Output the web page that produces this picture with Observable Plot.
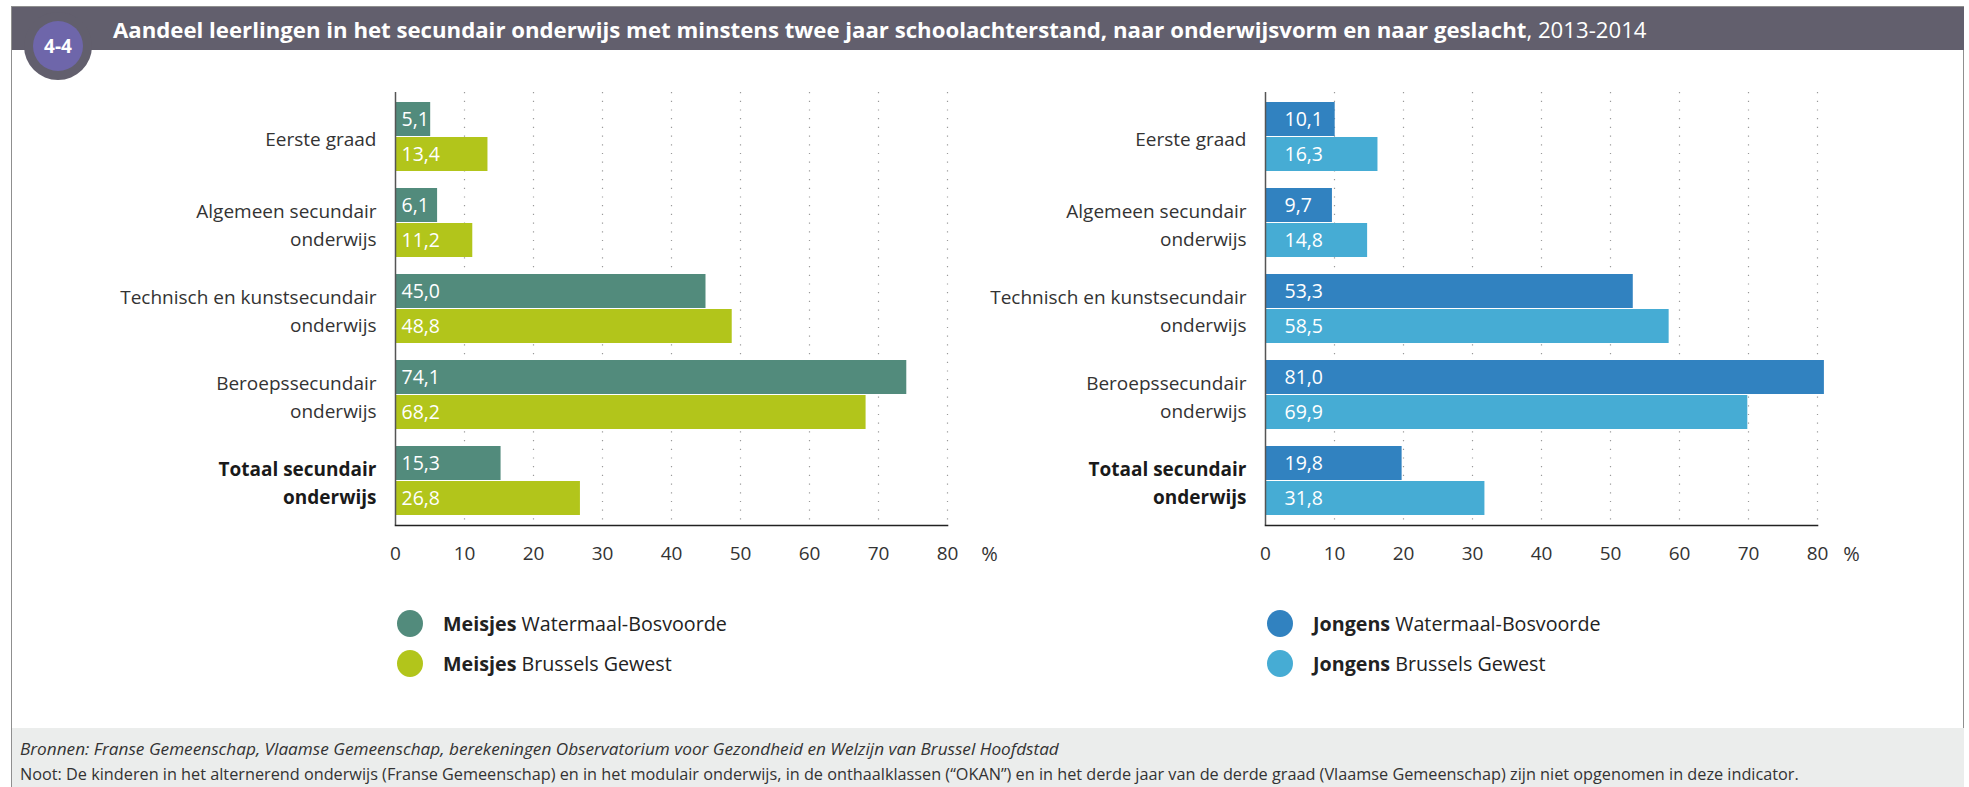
<!DOCTYPE html>
<html>
<head>
<meta charset="utf-8">
<script src="https://cdn.jsdelivr.net/npm/d3@7"></script>
<script src="https://cdn.jsdelivr.net/npm/@observablehq/plot@0.6"></script>
<style>
  html, body { margin: 0; padding: 0; background: #fff; }
  #wrap { position: relative; width: 1969px; height: 787px; overflow: hidden; font-family: "Open Sans", sans-serif; color: #222; }
  #frame { position: absolute; left: 11px; top: 6px; width: 1953px; height: 790px; border: 1px solid #8f8f8f; box-sizing: border-box; }
  #titlebar { position: absolute; left: 12px; top: 7px; width: 1952px; height: 43px; background: #625f6d; }
  #title { position: absolute; left: 113px; top: 8px; height: 43px; line-height: 43px; color: #fff; font-size: 22.2px; white-space: nowrap; }
  #title b { font-weight: 700; }
  #badge { position: absolute; left: 24px; top: 12px; width: 68px; height: 68px; border-radius: 50%; background: #625f6d; }
  #badge div { position: absolute; left: 9px; top: 9px; width: 50px; height: 50px; border-radius: 50%; background: #6e66aa; color: #fff; font-weight: 700; font-size: 19px; line-height: 50px; text-align: center; }
  .chart { position: absolute; top: 0; }
  .legend { position: absolute; font-size: 19.7px; color: #222; }
  .legend .item { position: absolute; white-space: nowrap; height: 28px; line-height: 28px; }
  .legend .dot { position: absolute; width: 26px; height: 27px; border-radius: 50%; }
  #footer { position: absolute; left: 12px; top: 728px; width: 1952px; height: 70px; background: #ebedec; }
  .foot { position: absolute; left: 20px; color: #333; white-space: nowrap; }
</style>
</head>
<body>
<div id="wrap">
  <div id="frame"></div>
  <div id="titlebar"></div>
  <div id="title"></div>
  <div id="badge"><div>4-4</div></div>
  <div id="footer"></div>
</div>
<script>
// ---- data ----
const categories = [
  "Eerste graad",
  "Algemeen secundair\nonderwijs",
  "Technisch en kunstsecundair\nonderwijs",
  "Beroepssecundair\nonderwijs",
  "Totaal secundair\nonderwijs"
];
const totalCategory = "Totaal secundair\nonderwijs";
const meisjesWatermaal = [5.1, 6.1, 45.0, 74.1, 15.3];
const meisjesBrussel   = [13.4, 11.2, 48.8, 68.2, 26.8];
const jongensWatermaal = [10.1, 9.7, 53.3, 81.0, 19.8];
const jongensBrussel   = [16.3, 14.8, 58.5, 69.9, 31.8];
const xTicks = [0, 10, 20, 30, 40, 50, 60, 70, 80];

const titleBold = "Aandeel leerlingen in het secundair onderwijs met minstens twee jaar schoolachterstand, naar onderwijsvorm en naar geslacht";
const titleRest = ", 2013-2014";
const legendLeft = [["Meisjes", "Watermaal-Bosvoorde"], ["Meisjes", "Brussels Gewest"]];
const legendRight = [["Jongens", "Watermaal-Bosvoorde"], ["Jongens", "Brussels Gewest"]];
const sourceText = "Bronnen: Franse Gemeenschap, Vlaamse Gemeenschap, berekeningen Observatorium voor Gezondheid en Welzijn van Brussel Hoofdstad";
const noteText = "Noot: De kinderen in het alternerend onderwijs (Franse Gemeenschap) en in het modulair onderwijs, in de onthaalklassen (\u201COKAN\u201D) en in het derde jaar van de derde graad (Vlaamse Gemeenschap) zijn niet opgenomen in deze indicator.";

const colors = {
  meisjes: ["#528b7c", "#b2c51b"],
  jongens: ["#3182c0", "#46acd4"]
};

const fmt = v => v.toFixed(1).replace(".", ",");

function makeChart(valsA, valsB, cols, labelDx, pctDx) {
  const rows = categories.map((c, i) => ({cat: c, a: valsA[i], b: valsB[i]}));
  return Plot.plot({
    width: 985,
    height: 580,
    marginTop: 92,
    marginBottom: 55,
    marginLeft: 395,
    marginRight: 38,
    style: {fontFamily: "Open Sans", fontSize: "19px", color: "#333", background: "transparent", overflow: "visible"},
    x: {domain: [0, 80], axis: null},
    y: {domain: categories, paddingInner: 0.193, paddingOuter: 0.094, axis: null},
    marks: [
      Plot.ruleX(xTicks.filter(d => d > 0), {stroke: "#9a9a9a", strokeWidth: 1.2, strokeDasharray: "1.2,7.5"}),
      Plot.barX(rows, {x: "a", y: "cat", fill: cols[0], insetBottom: 35}),
      Plot.barX(rows, {x: "b", y: "cat", fill: cols[1], insetTop: 35}),
      Plot.text(rows, {x: 0, y: "cat", text: d => fmt(d.a), dx: labelDx, dy: -17.5, textAnchor: "start", fill: "white", fontSize: 19.5}),
      Plot.text(rows, {x: 0, y: "cat", text: d => fmt(d.b), dx: labelDx, dy: 17.5, textAnchor: "start", fill: "white", fontSize: 19.5}),
      Plot.text(rows.filter(d => d.cat !== totalCategory), {x: 0, y: "cat", text: "cat", dx: -19, textAnchor: "end", lineHeight: 1.45, fontSize: 19, fill: "#333"}),
      Plot.text(rows.filter(d => d.cat === totalCategory), {x: 0, y: "cat", text: "cat", dx: -19, textAnchor: "end", lineHeight: 1.45, fontSize: 19, fontWeight: "bold", fill: "#1a1a1a"}),
      Plot.ruleX([0], {stroke: "#555", strokeWidth: 1.5}),
      Plot.frame({anchor: "bottom", stroke: "#222", strokeWidth: 1.6}),
      Plot.axisX({ticks: xTicks, tickSize: 0, tickPadding: 21, tickFormat: d => String(d)}),
      Plot.text(["%"], {x: 80, frameAnchor: "bottom", dx: pctDx, dy: 35, text: d => d, fontSize: 20, fill: "#333"})
    ]
  });
}

const wrap = document.getElementById("wrap");
document.getElementById("title").innerHTML = "<b>" + titleBold + "</b>" + titleRest;

const left = makeChart(meisjesWatermaal, meisjesBrussel, colors.meisjes, 6, 42);
left.classList.add("chart");
left.style.left = "0px";
wrap.appendChild(left);

const right = makeChart(jongensWatermaal, jongensBrussel, colors.jongens, 19, 34);
right.classList.add("chart");
right.style.left = "870px";
wrap.appendChild(right);

function makeLegend(items, cols, x) {
  const lg = document.createElement("div");
  lg.className = "legend";
  lg.style.left = x + "px";
  lg.style.top = "0px";
  const ys = [623.5, 663.5];
  items.forEach((it, i) => {
    const dot = document.createElement("div");
    dot.className = "dot";
    dot.style.background = cols[i];
    dot.style.left = "0px";
    dot.style.top = (ys[i] - 13.5) + "px";
    lg.appendChild(dot);
    const t = document.createElement("div");
    t.className = "item";
    t.style.left = "46px";
    t.style.top = (ys[i] - 14) + "px";
    t.innerHTML = "<b>" + it[0] + "</b> " + it[1];
    lg.appendChild(t);
  });
  wrap.appendChild(lg);
}
makeLegend(legendLeft, colors.meisjes, 397);
makeLegend(legendRight, colors.jongens, 1267);

const s = document.createElement("div");
s.className = "foot";
s.style.top = "737px";
s.style.fontSize = "17.2px";
s.style.fontStyle = "italic";
s.textContent = sourceText;
wrap.appendChild(s);
const n = document.createElement("div");
n.className = "foot";
n.style.top = "763px";
n.style.fontSize = "16.25px";
n.textContent = noteText;
wrap.appendChild(n);
</script>
</body>
</html>
